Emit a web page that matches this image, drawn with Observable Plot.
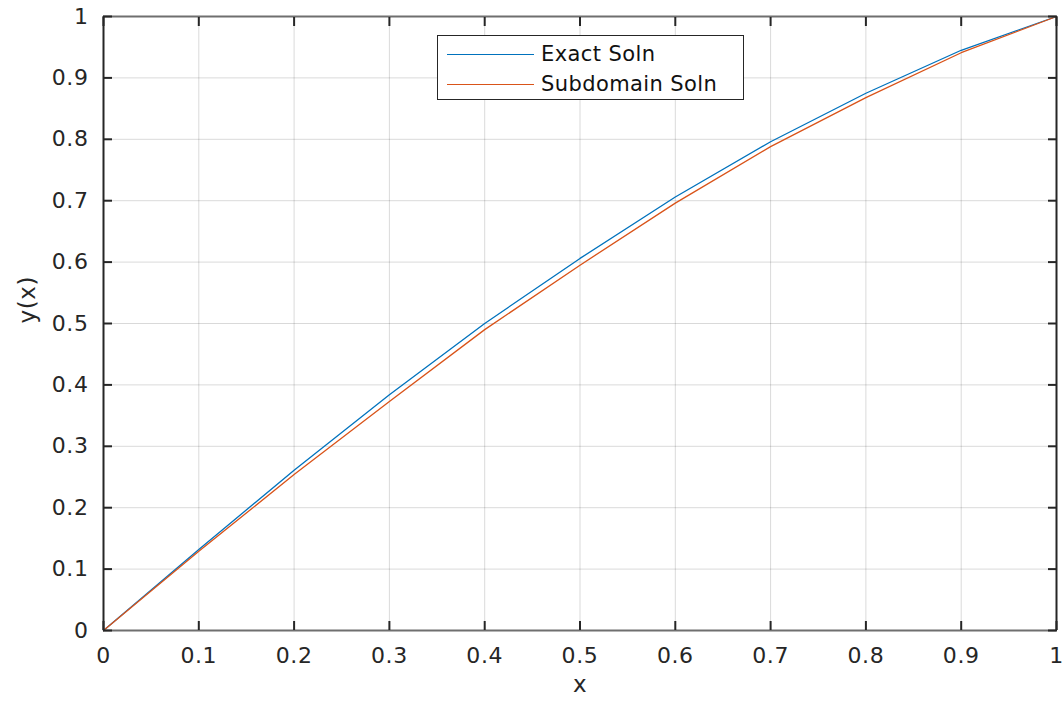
<!DOCTYPE html>
<html>
<head>
<meta charset="utf-8">
<script src="https://cdn.jsdelivr.net/npm/d3@7"></script>
<script src="https://cdn.jsdelivr.net/npm/@observablehq/plot@0.6"></script>
<style>
  html, body { margin: 0; padding: 0; background: #fff; }
  #wrap { position: relative; width: 1063px; height: 702px; font-family: "DejaVu Sans", sans-serif; }
  #wrap svg text { letter-spacing: 0.6px; }
  #legend { position: absolute; left: 437px; top: 35px; width: 305px; height: 63px; border: 1px solid #262626; background: #fff; box-sizing: content-box; }
  .item { position: absolute; left: 0; height: 30px; display: flex; align-items: center; }
  .item .ln { position: absolute; left: 9px; width: 87px; height: 0; border-top: 1.3px solid; }
  .item .tx { position: absolute; left: 103px; font-size: 21px; letter-spacing: 0.4px; color: #111; white-space: nowrap; }
</style>
</head>
<body>
<div id="wrap"></div>
<script>
const xs = [0, 0.1, 0.2, 0.3, 0.4, 0.5, 0.6, 0.7, 0.8, 0.9, 1];
const exactSoln = [0, 0.132, 0.261, 0.384, 0.5, 0.606, 0.706, 0.796, 0.875, 0.945, 1];
const subdomainSoln = [0, 0.129, 0.254, 0.373, 0.49, 0.595, 0.696, 0.788, 0.868, 0.941, 1];
const seriesNames = ["Exact Soln", "Subdomain Soln"];
const seriesColors = ["#0072BD", "#D95319"];
const tickValues = [0, 0.1, 0.2, 0.3, 0.4, 0.5, 0.6, 0.7, 0.8, 0.9, 1];
const tickLabels = ["0", "0.1", "0.2", "0.3", "0.4", "0.5", "0.6", "0.7", "0.8", "0.9", "1"];

const exactData = xs.map((x, i) => ({x, y: exactSoln[i]}));
const subData = xs.map((x, i) => ({x, y: subdomainSoln[i]}));
const fmt = d => tickLabels[tickValues.findIndex(t => Math.abs(t - d) < 1e-9)];

const dark = "#262626";
const gray = "#6f6f6f";

const chart = Plot.plot({
  width: 1063,
  height: 702,
  marginLeft: 103,
  marginRight: 7,
  marginTop: 16,
  marginBottom: 72,
  style: {fontFamily: "DejaVu Sans, sans-serif", fontSize: "22px", color: dark, background: "#fff", overflow: "visible"},
  x: {domain: [0, 1]},
  y: {domain: [0, 1]},
  marks: [
    Plot.gridX(tickValues, {stroke: "#000", strokeOpacity: 0.15, strokeWidth: 1}),
    Plot.gridY(tickValues, {stroke: "#000", strokeOpacity: 0.15, strokeWidth: 1}),
    Plot.line(exactData, {x: "x", y: "y", stroke: seriesColors[0], strokeWidth: 1.3}),
    Plot.line(subData, {x: "x", y: "y", stroke: seriesColors[1], strokeWidth: 1.3}),
    Plot.ruleY([0, 1], {stroke: gray, strokeWidth: 2}),
    Plot.ruleX([0, 1], {stroke: dark, strokeWidth: 2}),
    Plot.axisX(tickValues, {anchor: "bottom", tickSize: -9, tickFormat: () => "", stroke: dark, strokeWidth: 2, label: null}),
    Plot.axisX(tickValues, {anchor: "top", tickSize: -9, tickFormat: () => "", stroke: dark, strokeWidth: 2, label: null}),
    Plot.axisY(tickValues, {anchor: "left", tickSize: -9, tickFormat: () => "", stroke: dark, strokeWidth: 2, label: null}),
    Plot.axisY(tickValues, {anchor: "right", tickSize: -9, tickFormat: () => "", stroke: dark, strokeWidth: 2, label: null}),
    Plot.axisX(tickValues, {anchor: "bottom", tickSize: 0, tickPadding: 17, tickFormat: fmt, fill: dark, fontSize: 22, label: null}),
    Plot.axisY(tickValues, {anchor: "left", tickSize: 0, tickPadding: 15, tickFormat: fmt, fill: dark, fontSize: 22, label: null}),
    Plot.text(["x"], {frameAnchor: "bottom", dy: 61, fill: dark, fontSize: 23}),
    Plot.text(["y(x)"], {frameAnchor: "left", dx: -76, rotate: -90, fill: dark, fontSize: 23})
  ]
});

const wrap = document.getElementById("wrap");
wrap.appendChild(chart);

const legend = document.createElement("div");
legend.id = "legend";
seriesNames.forEach((name, i) => {
  const it = document.createElement("div");
  it.className = "item";
  it.style.top = (3 + i * 30) + "px";
  const ln = document.createElement("div");
  ln.className = "ln";
  ln.style.borderTopColor = seriesColors[i];
  const tx = document.createElement("div");
  tx.className = "tx";
  tx.textContent = name;
  it.appendChild(ln);
  it.appendChild(tx);
  legend.appendChild(it);
});
wrap.appendChild(legend);
</script>
</body>
</html>
